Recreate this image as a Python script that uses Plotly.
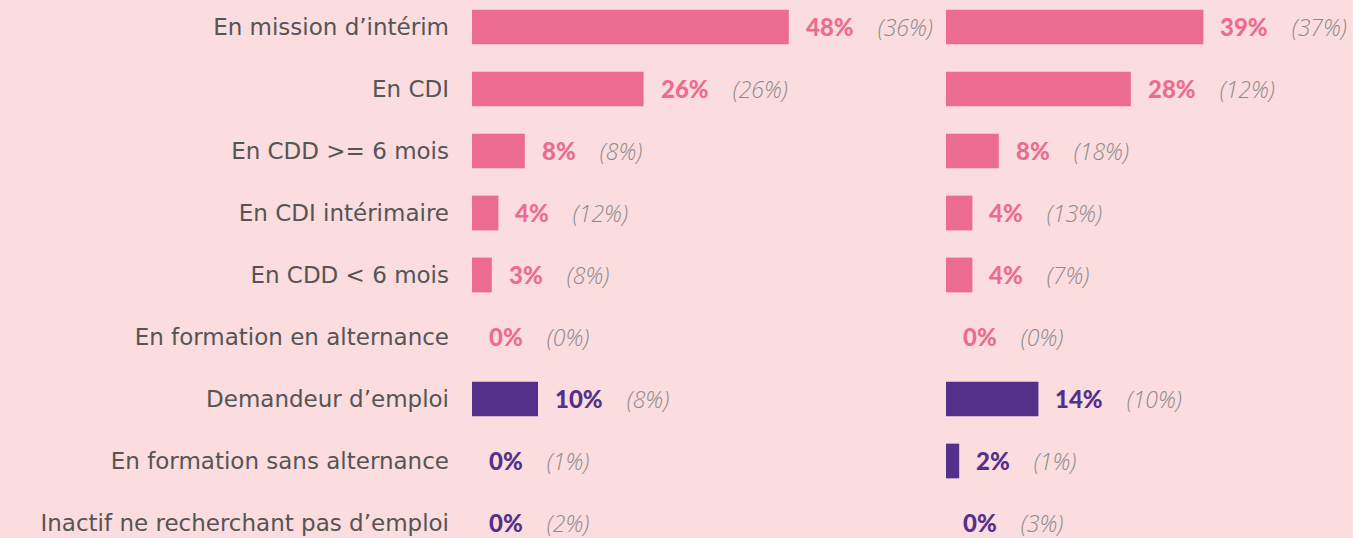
import plotly.graph_objects as go
from plotly.subplots import make_subplots

categories = [
    "En mission d’intérim",
    "En CDI",
    "En CDD >= 6 mois",
    "En CDI intérimaire",
    "En CDD < 6 mois",
    "En formation en alternance",
    "Demandeur d’emploi",
    "En formation sans alternance",
    "Inactif ne recherchant pas d’emploi",
]
left_values = [48, 26, 8, 4, 3, 0, 10, 0, 0]
left_previous = [36, 26, 8, 12, 8, 0, 8, 1, 2]
right_values = [39, 28, 8, 4, 4, 0, 14, 2, 0]
right_previous = [37, 12, 18, 13, 7, 0, 10, 1, 3]
groups = ["emploi"] * 6 + ["autre"] * 3

PINK = "#EC6C8F"
PURPLE = "#54308A"
BG = "#FBDCDF"
LABEL = "#555555"
PAREN = "#8C8C8C"
colors = [PINK if g == "emploi" else PURPLE for g in groups]

fig = make_subplots(rows=1, cols=2, shared_yaxes=False, horizontal_spacing=0)

for col, (vals, prev) in enumerate([(left_values, left_previous), (right_values, right_previous)], start=1):
    fig.add_trace(
        go.Bar(
            x=vals, y=categories, orientation="h",
            marker=dict(color=colors, line=dict(width=0)),
            width=0.56, showlegend=False, hoverinfo="skip",
        ),
        row=1, col=col,
    )
    xref = "x" if col == 1 else "x2"
    yref = "y" if col == 1 else "y2"
    for cat, v, p, c in zip(categories, vals, prev, colors):
        fig.add_annotation(
            x=v, y=cat, xref=xref, yref=yref,
            xanchor="left", yanchor="middle", xshift=15, yshift=0,
            showarrow=False,
            text=(f'<span style="font-family:Lato;font-weight:900;font-size:24px;color:{c}">{v}%</span>'
                  f'<span style="font-size:24px">\u2002\u2002</span>'
                  f'<span style="font-family:Open Sans;font-style:italic;font-weight:300;font-size:23px;color:{PAREN}">({p}%)</span>'),
        )

row_px = 62.0
ymax = 8 + 15 / row_px
ymin = -27 / row_px
x0 = 472 / 1353
x1 = 940 / 1353
x2 = 946 / 1353
ppu = 6.6

fig.update_layout(
    width=1353, height=538,
    margin=dict(l=0, r=0, t=0, b=0),
    paper_bgcolor=BG, plot_bgcolor=BG,
    font=dict(family="DejaVu Sans", color=LABEL),
    xaxis=dict(domain=[x0, x1], range=[0, (940 - 472) / ppu], visible=False, fixedrange=True),
    xaxis2=dict(domain=[x2, 1.0], range=[0, (1353 - 946) / ppu], visible=False, fixedrange=True),
    yaxis=dict(
        type="category", categoryorder="array", categoryarray=categories,
        range=[ymax, ymin], showgrid=False, zeroline=False, showline=False,
        ticks="", ticklabelstandoff=22, fixedrange=True,
        tickfont=dict(family="DejaVu Sans", size=23, color=LABEL),
    ),
    yaxis2=dict(
        type="category", categoryorder="array", categoryarray=categories,
        range=[ymax, ymin], showticklabels=False, showgrid=False, zeroline=False, showline=False,
        anchor="x2", fixedrange=True,
    ),
)

fig.write_html(
    "out.html",
    config={"displayModeBar": False},
    post_script="document.body.style.margin='0px';document.body.style.overflow='hidden';document.body.style.background='" + BG + "';",
)
